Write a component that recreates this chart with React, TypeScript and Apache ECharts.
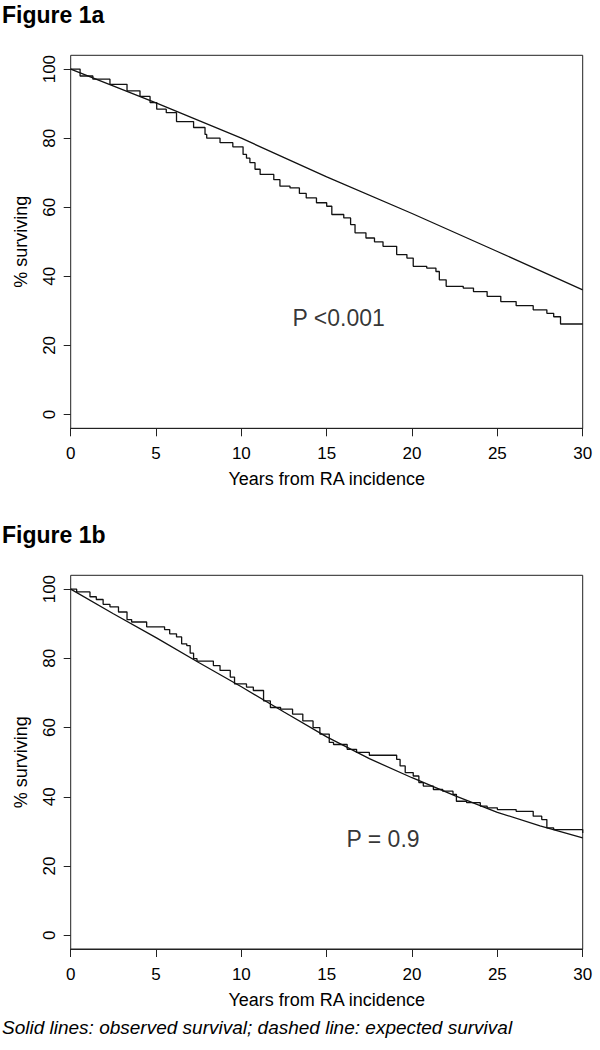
import React, { useEffect, useRef } from "react";
import * as echarts from "echarts";

// ---- Data ----
// Figure 1a: observed survival (Kaplan-Meier, years -> % surviving)
const obsA_years = [0, 0.55, 1.3, 2.3, 3.3, 4.06, 4.65, 5.04, 5.6, 6.2, 7.2, 7.87, 7.97, 8.75, 9.5, 10.1, 10.3, 10.5, 10.8, 11.1, 11.9, 12.26, 12.85, 13.4, 13.8, 14.4, 15.0, 15.3, 16.0, 16.4, 16.66, 17.3, 17.8, 18.3, 19.1, 19.7, 20.07, 20.86, 21.4, 21.6, 22.0, 23.0, 23.6, 24.4, 25.2, 26.1, 27.1, 27.9, 28.3, 28.7, 30];
const obsA_surv = [100, 98, 97.1, 95.6, 93.7, 92.1, 90.3, 88.4, 87.4, 84.8, 83.1, 81.1, 80, 78.7, 77.5, 75.3, 74.2, 72.9, 71, 69.5, 68, 66.1, 65.6, 64, 62.7, 61.3, 60.3, 57.9, 56.9, 55, 52.6, 51.1, 50, 48.7, 46.3, 45.3, 42.9, 42.4, 41.4, 39, 37.1, 36.6, 35.6, 34.2, 32.7, 31.5, 30.3, 29.3, 28.3, 26.2, 26.2];
// Figure 1a: expected survival
const expA_years = [0, 5, 10, 15, 20, 25, 30];
const expA_surv = [100, 90.2, 80, 68.8, 58.2, 47.2, 36.1];

// Figure 1b: observed survival
const obsB_years = [0, 0.35, 1.13, 1.5, 1.9, 2.3, 2.8, 3.3, 3.57, 4.45, 5.5, 5.8, 6.2, 6.5, 6.8, 7.0, 7.2, 7.4, 8.36, 8.75, 9.35, 9.6, 10.3, 10.7, 11.3, 11.7, 12.3, 13.0, 13.6, 14.2, 14.6, 15.15, 15.4, 16.2, 16.75, 17.5, 19.1, 19.3, 19.6, 20.07, 20.4, 20.66, 21.25, 21.8, 22.4, 22.6, 23.2, 24.0, 24.4, 25.0, 26.1, 27.1, 27.6, 27.9, 28.3, 29.95, 30];
const obsB_surv = [100, 99.2, 97.8, 97, 95.6, 94.9, 93.4, 91.2, 90.5, 89.1, 88.3, 87.1, 86.2, 84.2, 83.7, 81.5, 79.9, 79.2, 77.9, 76.5, 74.6, 72.6, 71.7, 70.7, 67.7, 65.8, 65.3, 63.9, 61.9, 60.0, 58.1, 55.7, 55.1, 53.7, 52.8, 52, 50.8, 48.9, 47, 46, 44.1, 43.1, 42.1, 41.6, 40.7, 38.7, 38.3, 37.3, 36.8, 36.3, 35.8, 34.4, 33.4, 31, 30.5, 30.5, 29.5];
// Figure 1b: expected survival
const expB_years = [0, 2.5, 5, 7.5, 10, 12.5, 15, 17.5, 20, 22.5, 25, 27.5, 30];
const expB_surv = [100, 92.9, 86, 78.8, 71.8, 64.5, 57.3, 51, 45.5, 40.3, 35.5, 31.6, 28.1];

// Axis ticks and texts
const xTicks = [0, 5, 10, 15, 20, 25, 30];
const yTicks = [0, 20, 40, 60, 80, 100];
const panelTitles = ["Figure 1a", "Figure 1b"];
const pLabels = ["P <0.001", "P = 0.9"];
const pLabelPos = [
  [15.7, 28.0],
  [18.3, 27.8],
];
const xAxisTitle = "Years from RA incidence";
const yAxisTitle = "% surviving";
const footnote = "Solid lines: observed survival; dashed line: expected survival";

const FONT = "'Liberation Sans', Arial, Helvetica, sans-serif";
const LINE = "#111";

function zip(a: number[], b: number[]) {
  return a.map((v, i) => [v, b[i]]);
}

export default function App() {
  const ref = useRef<HTMLDivElement>(null);
  useEffect(() => {
    if (!ref.current) return;
    const chart = echarts.init(ref.current, undefined, { renderer: "svg" });
    const grids = [
      { left: 70.7, top: 55.3, width: 512, height: 373 },
      { left: 70.7, top: 575.3, width: 512, height: 373.7 },
    ].map((g) => ({ ...g, show: true, borderColor: "#222", borderWidth: 1, backgroundColor: "transparent" }));

    const xAxes = [0, 1].map((i) => ({
      type: "value",
      gridIndex: i,
      min: xTicks[0],
      max: xTicks[xTicks.length - 1],
      interval: 5,
      axisLine: { show: true, onZero: false, lineStyle: { color: "#222", width: 1 } },
      axisTick: { show: true, inside: false, length: 8, lineStyle: { color: "#222", width: 1 } },
      axisLabel: { fontSize: 17, color: "#000", margin: 17, fontFamily: FONT },
      splitLine: { show: false },
      name: xAxisTitle,
      nameLocation: "middle",
      nameGap: 42,
      nameTextStyle: { fontSize: 18, color: "#000", fontFamily: FONT },
    }));

    const yAxes = [0, 1].map((i) => ({
      type: "value",
      gridIndex: i,
      min: -4,
      max: 104,
      axisLine: { show: false },
      axisTick: { show: true, inside: false, length: 7, customValues: yTicks, lineStyle: { color: "#222", width: 1 } },
      axisLabel: { fontSize: 17, color: "#000", margin: 13, rotate: 90, fontFamily: FONT, customValues: yTicks },
      splitLine: { show: false },
      name: yAxisTitle,
      nameLocation: "middle",
      nameGap: 41,
      nameRotate: 90,
      nameTextStyle: { fontSize: 18, color: "#000", fontFamily: FONT },
    }));

    const lineSeries = (data: number[][], idx: number, step: boolean) => ({
      type: "line",
      xAxisIndex: idx,
      yAxisIndex: idx,
      data,
      step: step ? "end" : false,
      showSymbol: false,
      symbol: "none",
      lineStyle: { color: LINE, width: 1.3 },
      silent: true,
    });

    const labelSeries = (idx: number) => ({
      type: "scatter",
      xAxisIndex: idx,
      yAxisIndex: idx,
      data: [pLabelPos[idx]],
      symbolSize: 1,
      itemStyle: { color: "rgba(0,0,0,0)" },
      label: {
        show: true,
        position: "inside",
        formatter: pLabels[idx],
        fontSize: 23,
        color: "#000",
        fontFamily: FONT,
      },
      silent: true,
    });

    chart.setOption({
      animation: false,
      backgroundColor: "#fff",
      grid: grids,
      xAxis: xAxes,
      yAxis: yAxes,
      series: [
        lineSeries(zip(expA_years, expA_surv), 0, false),
        lineSeries(zip(obsA_years, obsA_surv), 0, true),
        lineSeries(zip(expB_years, expB_surv), 1, false),
        lineSeries(zip(obsB_years, obsB_surv), 1, true),
        labelSeries(0),
        labelSeries(1),
      ],
      graphic: [
        {
          type: "text",
          x: 2,
          y: 15,
          style: { text: panelTitles[0], font: `bold 23px ${FONT}`, fill: "#000", verticalAlign: "middle" },
        },
        {
          type: "text",
          x: 2,
          y: 535,
          style: { text: panelTitles[1], font: `bold 23px ${FONT}`, fill: "#000", verticalAlign: "middle" },
        },
        {
          type: "text",
          x: 2,
          y: 1027,
          style: { text: footnote, font: `italic 19px ${FONT}`, fill: "#000", verticalAlign: "middle" },
        },
      ],
    });
    return () => chart.dispose();
  }, []);
  return <div ref={ref} style={{ position: "fixed", left: 0, top: 0, width: 600, height: 1050 }} />;
}
